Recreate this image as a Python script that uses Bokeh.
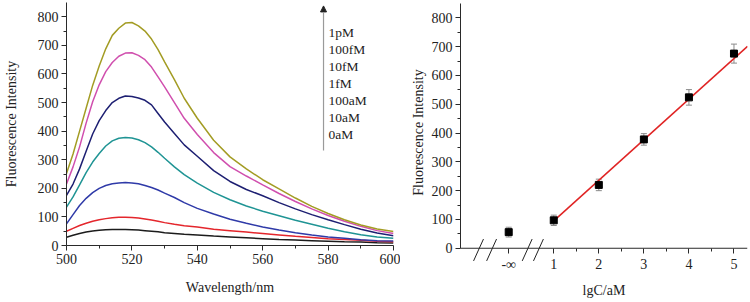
from bokeh.plotting import figure
from bokeh.models import (FixedTicker, Range1d, Arrow, NormalHead, Label, Whisker,
                          TeeHead, ColumnDataSource, Span)
from bokeh.layouts import row, column
from bokeh.embed import file_html
from bokeh.resources import INLINE

# ---------------- data: left panel (spectra) ----------------
wavelength = [500, 502, 504, 506, 508, 510, 512, 514, 516, 518, 520, 522, 524, 526, 528,
              530, 533, 536, 540, 545, 550, 555, 560, 565, 570, 575, 580, 585, 590, 595, 600]
s_0aM = [29, 36, 42, 47, 51, 53, 55, 56, 56, 56, 55, 54, 52, 50, 48,
         45, 42, 39, 37, 33, 30, 27, 24, 21, 19, 17, 15, 13, 12, 10, 9]
s_10aM = [50, 60, 70, 78, 85, 90, 94, 97, 99, 99, 98, 96, 93, 89, 85,
          80, 74, 69, 65, 57, 52, 47, 42, 37, 32, 28, 24, 21, 18, 15, 13]
s_100aM = [76, 108, 140, 165, 185, 200, 210, 216, 219, 220, 219, 216, 210, 203, 194,
           183, 168, 150, 130, 110, 92, 78, 65, 54, 45, 37, 30, 25, 20, 17, 16]
s_1fM = [134, 170, 212, 255, 292, 322, 348, 366, 375, 378, 376, 370, 360, 345, 326,
         305, 275, 248, 218, 186, 160, 138, 120, 104, 88, 74, 60, 48, 38, 30, 25]
s_10fM = [175, 215, 268, 330, 390, 437, 472, 500, 515, 523, 521, 516, 508, 492, 462,
          432, 392, 352, 312, 262, 224, 196, 174, 150, 128, 108, 90, 73, 57, 44, 34]
s_100fM = [215, 275, 345, 428, 503, 562, 608, 640, 662, 673, 674, 665, 650, 624, 590,
           555, 500, 445, 388, 325, 276, 243, 212, 182, 154, 128, 105, 85, 67, 52, 42]
s_1pM = [252, 320, 400, 480, 560, 628, 688, 735, 760, 778, 780, 768, 750, 722, 685,
         642, 580, 515, 445, 368, 310, 268, 230, 198, 166, 137, 112, 90, 72, 58, 49]

series = [s_0aM, s_10aM, s_100aM, s_1fM, s_10fM, s_100fM, s_1pM]
series_colors = ["#1c1c1c", "#e4262c", "#2f3aa8", "#1f9494", "#1d1f72", "#d04fae", "#a39c24"]
legend_labels = ["1pM", "100fM", "10fM", "1fM", "100aM", "10aM", "0aM"]

x_ticks_left = [500, 520, 540, 560, 580, 600]
y_ticks = [0, 100, 200, 300, 400, 500, 600, 700, 800]

# ---------------- data: right panel (calibration) ----------------
lgC = [0, 1, 2, 3, 4, 5]          # 0 stands for "-∞" (blank)
intensity = [56, 97, 220, 378, 524, 676]
intensity_err = [17, 18, 20, 20, 27, 33]
fit_slope = 141.0
fit_intercept = -46.0
x_ticks_right = [0, 1, 2, 3, 4, 5]
x_tick_labels_right = {0: "-∞", 1: "1", 2: "2", 3: "3", 4: "4", 5: "5"}
break_positions = [-0.67, -0.38, 0.41, 0.66]

FONT = "Liberation Serif"
AX = "#2a2a2a"
TXT = "#222222"


def style(p):
    p.outline_line_color = None
    p.background_fill_color = "white"
    p.border_fill_color = "white"
    p.xgrid.visible = False
    p.ygrid.visible = False
    for ax in (p.xaxis[0], p.yaxis[0]):
        ax.axis_line_color = AX
        ax.axis_line_width = 1
        ax.major_tick_line_color = AX
        ax.minor_tick_line_color = AX
        ax.major_tick_out = 5
        ax.major_tick_in = 0
        ax.minor_tick_out = 3
        ax.minor_tick_in = 0
        ax.major_label_text_font = FONT
        ax.major_label_text_font_size = "14px"
        ax.major_label_text_color = TXT
        ax.axis_label_text_font = FONT
        ax.axis_label_text_font_size = "14px"
        ax.axis_label_text_font_style = "normal"
        ax.axis_label_text_color = TXT
        ax.major_label_standoff = 3


# ---------------- left figure ----------------
left = figure(width=400, height=302, output_backend="svg", toolbar_location=None,
              x_range=Range1d(500, 600), y_range=Range1d(0, 850),
              min_border_left=62, min_border_right=7, min_border_top=2, min_border_bottom=57)
style(left)
left.xaxis.ticker = FixedTicker(ticks=x_ticks_left, minor_ticks=[510, 530, 550, 570, 590])
left.yaxis.ticker = FixedTicker(ticks=y_ticks, minor_ticks=[50, 150, 250, 350, 450, 550, 650, 750])
left.xaxis.axis_label = "Wavelength/nm"
left.yaxis.axis_label = "Fluorescence Intensity"
left.xaxis.axis_label_standoff = 13
left.yaxis.axis_label_standoff = 16

for ys, c in zip(series, series_colors):
    left.line(wavelength, ys, line_color=c, line_width=1.5)

# concentration arrow + labels
arrow_x = 578.6
left.add_layout(Arrow(end=NormalHead(size=6, fill_color=TXT, line_color=TXT),
                      x_start=arrow_x, y_start=332, x_end=arrow_x, y_end=838,
                      line_color="#9a9a9a", line_width=1.2))
label_y0 = 744
label_step = 59.5
for i, lab in enumerate(legend_labels):
    left.add_layout(Label(x=arrow_x + 1.5, y=label_y0 - i * label_step, text=lab,
                          text_font=FONT, text_font_size="13.5px", text_color=TXT,
                          text_baseline="middle", text_align="left"))

# ---------------- right figure ----------------
# The frame reaches a little below y = 0 so the axis-break marks are not clipped.
# The x axis line is drawn at y = 0; its ticks/labels are shifted up to meet it.
Y0_RIGHT = -46
right = figure(width=350, height=302, output_backend="svg", toolbar_location=None,
               x_range=Range1d(-1.07, 5.3), y_range=Range1d(Y0_RIGHT, 850),
               min_border_left=60, min_border_right=3, min_border_top=3, min_border_bottom=41)
style(right)
right.yaxis.bounds = (0, 850)
right.xaxis.axis_line_color = None
right.xaxis.major_tick_in = 13
right.xaxis.major_tick_out = -8
right.xaxis.minor_tick_in = 13
right.xaxis.minor_tick_out = -10
right.xaxis.ticker = FixedTicker(ticks=x_ticks_right, minor_ticks=[1.5, 2.5, 3.5, 4.5])
right.xaxis.major_label_overrides = x_tick_labels_right
right.yaxis.ticker = FixedTicker(ticks=y_ticks, minor_ticks=[50, 150, 250, 350, 450, 550, 650, 750])
right.xaxis.axis_label = "lgC/aM"
right.yaxis.axis_label = "Fluorescence Intensity"
right.xaxis.axis_label_standoff = 8
right.yaxis.axis_label_standoff = 3

# x axis line at y = 0
right.add_layout(Span(location=0, dimension="width", line_color=AX, line_width=1))

# fit line from x=1 to right edge
fit_x = [1, 5.3]
fit_y = [fit_intercept + fit_slope * v for v in fit_x]
right.line(fit_x, fit_y, line_color="#e02424", line_width=1.5)

src = ColumnDataSource(dict(
    x=lgC, y=intensity,
    upper=[a + b for a, b in zip(intensity, intensity_err)],
    lower=[a - b for a, b in zip(intensity, intensity_err)],
))
right.add_layout(Whisker(source=src, base="x", upper="upper", lower="lower",
                         line_color="#8a8a8a", line_width=1,
                         upper_head=TeeHead(size=6, line_color="#8a8a8a"),
                         lower_head=TeeHead(size=6, line_color="#8a8a8a")))
right.scatter("x", "y", source=src, marker="square", size=7,
              fill_color="black", line_color="black")

# axis break marks
right.segment(x0=[b - 0.11 for b in break_positions], y0=[-44] * len(break_positions),
              x1=[b + 0.11 for b in break_positions], y1=[32] * len(break_positions),
              line_color=TXT, line_width=1)

layout = row(column(left), column(right))
open("out.html", "w").write(file_html(layout, INLINE))
